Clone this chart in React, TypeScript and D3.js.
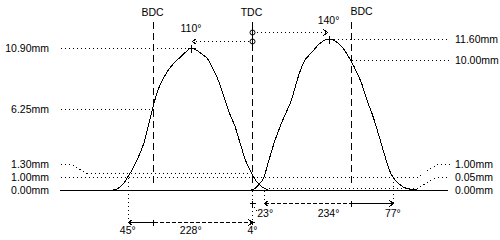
import React from "react";
import * as d3 from "d3";

// Left curve (opens before BDC, closes after TDC): crank angle (deg, TDC = 0) and lift (mm)
const leftAngles = [-252, -245, -240, -235, -230, -225, -215, -205, -195, -190, -185, -180, -170, -160, -150, -140, -130, -120, -110, -100, -90, -80, -70, -60, -50, -40, -30, -20, -10, 0, 4, 10, 20, 30];
const leftLift = [0, 0.08, 0.2, 0.4, 0.65, 1.0, 1.7, 2.6, 3.7, 4.5, 5.4, 6.25, 7.7, 8.6, 9.3, 9.8, 10.2, 10.6, 10.9, 10.75, 10.45, 10.1, 9.3, 8.4, 7.15, 5.9, 4.9, 3.5, 2.2, 1.3, 1.0, 0.6, 0.22, 0];

// Right curve (opens after TDC, closes after BDC)
const rightAngles = [0, 6, 12, 18, 23, 28, 43, 57, 74, 83, 94, 110, 125, 140, 155, 166, 180, 192, 201, 210, 219, 234, 243, 252, 257, 265, 276, 288, 301];
const rightLift = [0, 0.1, 0.35, 0.65, 1.0, 1.75, 3.85, 5.4, 7.1, 8.45, 9.75, 10.6, 11.3, 11.6, 11.38, 10.92, 10.0, 9.0, 8.1, 6.9, 5.9, 3.85, 2.55, 1.4, 1.0, 0.6, 0.23, 0.06, 0];

const deadCenterAngles = [-180, 0, 180];
const deadCenterLabels = ["BDC", "TDC", "BDC"];

const peakAngles = [-110, 140];
const peakLifts = [10.9, 11.6];
const peakLabels = ["110°", "140°"];

const leftMarkLifts = [10.9, 6.25, 1.3, 1.0, 0.0];
const leftMarkLabels = ["10.90mm", "6.25mm", "1.30mm", "1.00mm", "0.00mm"];
const rightMarkLifts = [11.6, 10.0, 1.0, 0.05, 0.0];
const rightMarkLabels = ["11.60mm", "10.00mm", "1.00mm", "0.05mm", "0.00mm"];

// timing events: [open angle, close angle]
const leftEvents = [-225, 4];
const leftEventLabels = ["45°", "228°", "4°"];
const rightEvents = [23, 257];
const rightEventLabels = ["23°", "234°", "77°"];

export default function App() {
  const xs = d3.scaleLinear().domain([-180, 180]).range([152.5, 350.5]);
  const ys = d3.scaleLinear().domain([0, 11.6]).range([190, 39.2]);
  const px = (a: number) => Math.round(xs(a)) + 0.5;
  const py = (v: number) => Math.round(ys(v)) + 0.5;

  const line = d3
    .line<[number, number]>()
    .x((d) => xs(d[0]))
    .y((d) => ys(d[1]))
    .curve(d3.curveMonotoneX);
  const leftPath = line(leftAngles.map((a, i) => [a, leftLift[i]] as [number, number])) || "";
  const rightPath = line(rightAngles.map((a, i) => [a, rightLift[i]] as [number, number])) || "";

  const dot = "1,3";
  const dash = "7,4";
  const sdash = "4,2";
  const font = { fontFamily: "'Liberation Sans', Arial, sans-serif", fontSize: 10.5 };
  const S = { stroke: "#000", strokeWidth: 1, fill: "none", shapeRendering: "crispEdges" as const };

  const axisL = 60;
  const axisR = 448;
  const lblL = 49;
  const lblR = 455;
  const refL = 61;
  const refR = 450;

  const chevron = (x: number, y: number, dir: number, k: string) => (
    <path key={k} d={`M${x + dir * 4},${y - 3}L${x},${y}L${x + dir * 4},${y + 3}`} {...S} />
  );
  const cross = (x: number, y: number, k: string, s = 3) => (
    <path key={k} d={`M${x - s},${y}H${x + s}M${x},${y - s}V${y + s}`} {...S} />
  );

  const row1 = 203.5;
  const row2 = 222.5;
  const topR = 32.5;
  const topL = 41.5;

  // label offsets for crowded low marks
  const leftLabelY = leftMarkLifts.map((v, i) => (i === 2 ? ys(v) - 9 : ys(v)));
  const rightLabelY = rightMarkLifts.map((v, i) => (i === 2 ? ys(v) - 13 : i === 3 ? ys(v) - 12 : ys(v)));

  return (
    <svg width={500} height={240} style={{ position: "absolute", left: 0, top: 0, background: "#fff" }}>
      <rect x={0} y={0} width={500} height={240} fill="#fff" />
      {/* baseline */}
      <line x1={axisL} x2={axisR} y1={py(0)} y2={py(0)} {...S} />

      {/* dead centres */}
      {deadCenterAngles.map((a, i) => (
        <g key={"dc" + i}>
          <line x1={px(a)} x2={px(a)} y1={22} y2={187} {...S} strokeDasharray={dash} />
          <text
            x={xs(a)}
            y={i === 2 ? 15 : 16}
            textAnchor={i === 2 ? "start" : "middle"}
            style={font}
          >
            {deadCenterLabels[i]}
          </text>
        </g>
      ))}

      {/* left reference lines */}
      <line x1={refL} x2={px(peakAngles[0])} y1={py(10.9)} y2={py(10.9)} {...S} strokeDasharray={dot} />
      <line x1={refL} x2={px(-180)} y1={py(6.25)} y2={py(6.25)} {...S} strokeDasharray={dot} />
      <path
        d={`M${refL},${Math.round(leftLabelY[2]) + 0.5}H72L87,${py(1.3)}H${px(0)}`}
        {...S}
        strokeDasharray={dot}
      />
      <line x1={refL} x2={417} y1={py(1.0)} y2={py(1.0)} {...S} strokeDasharray={dot} />
      {leftMarkLabels.map((t, i) => (
        <text key={"ll" + i} x={lblL} y={leftLabelY[i] + 4} textAnchor="end" style={font}>
          {t}
        </text>
      ))}

      {/* right reference lines */}
      <line x1={px(peakAngles[1])} x2={refR} y1={py(11.6)} y2={py(11.6)} {...S} strokeDasharray={dot} />
      <line x1={px(180)} x2={refR} y1={py(10.0)} y2={py(10.0)} {...S} strokeDasharray={dot} />
      <path
        d={`M417,${py(1.0)}L437,${Math.round(rightLabelY[2]) + 0.5}H${refR}`}
        {...S}
        strokeDasharray={dot}
      />
      <path
        d={`M${px(30)},${py(0.05) - 1}H417L437,${Math.round(rightLabelY[3]) + 0.5}H${refR}`}
        {...S}
        strokeDasharray={dot}
      />
      {rightMarkLabels.map((t, i) => (
        <text key={"rl" + i} x={lblR} y={rightLabelY[i] + 4} textAnchor="start" style={font}>
          {t}
        </text>
      ))}

      {/* curves */}
      <path d={leftPath} {...S} />
      <path d={rightPath} {...S} />

      {/* peaks */}
      {peakAngles.map((a, i) => cross(Math.round(xs(a)) + 0.5, Math.round(ys(peakLifts[i])) + 0.5, "pk" + i, 4))}
      <text x={xs(peakAngles[0])} y={32} textAnchor="middle" style={font}>
        {peakLabels[0]}
      </text>
      <text x={xs(peakAngles[1])} y={24} textAnchor="middle" style={font}>
        {peakLabels[1]}
      </text>

      {/* top angle arrows from TDC */}
      <circle cx={px(0)} cy={topR} r={2.5} fill="#fff" stroke="#000" />
      <circle cx={px(0)} cy={topL} r={2.5} fill="#fff" stroke="#000" />
      <line x1={px(0)} x2={px(0)} y1={22} y2={46} {...S} />
      <line x1={px(0) + 4} x2={px(peakAngles[1]) - 3} y1={topR} y2={topR} {...S} strokeDasharray={dot} />
      {chevron(px(peakAngles[1]) - 2, topR, -1, "chR")}
      <line x1={px(0) - 4} x2={px(peakAngles[0]) + 2} y1={topL} y2={topL} {...S} strokeDasharray={dot} />
      {chevron(px(peakAngles[0]) + 1, topL, 1, "chL")}

      {/* bottom row 1 : right curve timing */}
      {cross(px(0), row1, "t0")}
      <path d={`M${px(0) + 2},${row1 + 4}L${px(0) + 5},${row1 + 9}`} {...S} strokeDasharray="1,2" />
      <line x1={px(rightEvents[0])} x2={px(rightEvents[0])} y1={py(0)} y2={row1} {...S} strokeDasharray={dot} />
      {chevron(px(rightEvents[0]), row1, 1, "r1a")}
      <line x1={px(rightEvents[0])} x2={px(180)} y1={row1} y2={row1} {...S} strokeDasharray={sdash} />
      <line x1={px(180)} x2={px(180)} y1={row1 - 3} y2={row1 + 3} {...S} />
      <line x1={px(180)} x2={px(rightEvents[1])} y1={row1} y2={row1} {...S} />
      {chevron(px(rightEvents[1]), row1, -1, "r1b")}
      <line x1={px(rightEvents[1])} x2={px(rightEvents[1])} y1={py(1.0)} y2={row1} {...S} strokeDasharray={dot} />
      <text x={xs(rightEvents[0]) + 1} y={217} textAnchor="middle" style={font}>
        {rightEventLabels[0]}
      </text>
      <text x={(xs(rightEvents[0]) + xs(rightEvents[1])) / 2} y={217} textAnchor="middle" style={font}>
        {rightEventLabels[1]}
      </text>
      <text x={xs(rightEvents[1])} y={217} textAnchor="middle" style={font}>
        {rightEventLabels[2]}
      </text>

      {/* bottom row 2 : left curve timing */}
      <line x1={px(leftEvents[0])} x2={px(leftEvents[0])} y1={py(1.0)} y2={row2} {...S} strokeDasharray={dot} />
      {chevron(px(leftEvents[0]), row2, 1, "r2a")}
      <line x1={px(leftEvents[0])} x2={px(-180)} y1={row2} y2={row2} {...S} />
      <line x1={px(-180)} x2={px(-180)} y1={row2 - 3} y2={row2 + 3} {...S} />
      <line x1={px(-180)} x2={px(0)} y1={row2} y2={row2} {...S} strokeDasharray={sdash} />
      <line x1={px(0)} x2={px(0)} y1={py(0)} y2={row2} {...S} strokeDasharray={dot} />
      {cross(px(0), row2, "t2", 2)}
      {chevron(px(0), row2, -1, "r2b")}
      <text x={xs(leftEvents[0])} y={234} textAnchor="middle" style={font}>
        {leftEventLabels[0]}
      </text>
      <text x={(xs(leftEvents[0]) + xs(leftEvents[1])) / 2} y={234} textAnchor="middle" style={font}>
        {leftEventLabels[1]}
      </text>
      <text x={xs(0) + 1} y={234} textAnchor="middle" style={font}>
        {leftEventLabels[2]}
      </text>
    </svg>
  );
}
